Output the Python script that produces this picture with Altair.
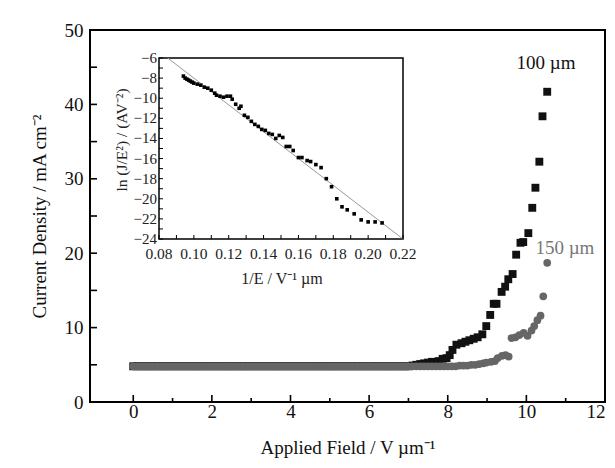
import altair as alt
import pandas as pd

# ---------------- main plot data ----------------
field_100 = [
    0.0, 0.1, 0.2, 0.3, 0.4, 0.5, 0.6, 0.7, 0.8, 0.9,
    1.0, 1.1, 1.2, 1.3, 1.4, 1.5, 1.6, 1.7, 1.8, 1.9,
    2.0, 2.1, 2.2, 2.3, 2.4, 2.5, 2.6, 2.7, 2.8, 2.9,
    3.0, 3.1, 3.2, 3.3, 3.4, 3.5, 3.6, 3.7, 3.8, 3.9,
    4.0, 4.1, 4.2, 4.3, 4.4, 4.5, 4.6, 4.7, 4.8, 4.9,
    5.0, 5.1, 5.2, 5.3, 5.4, 5.5, 5.6, 5.7, 5.8, 5.9,
    6.0, 6.1, 6.2, 6.3, 6.4, 6.5, 6.6, 6.7, 6.8, 6.9,
    7.0, 7.1, 7.2, 7.3, 7.4, 7.5, 7.6,
    7.77, 7.87, 7.97, 8.05, 8.12, 8.22, 8.35, 8.45, 8.55, 8.66,
    8.76, 8.88, 8.98, 9.08, 9.17, 9.24, 9.37, 9.46, 9.54, 9.65,
    9.74, 9.85, 9.92, 10.05, 10.15, 10.23, 10.33, 10.41, 10.53,
]
density_100 = [
    4.8, 4.8, 4.8, 4.8, 4.8, 4.8, 4.8, 4.8, 4.8, 4.8,
    4.8, 4.8, 4.8, 4.8, 4.8, 4.8, 4.8, 4.8, 4.8, 4.8,
    4.8, 4.8, 4.8, 4.8, 4.8, 4.8, 4.8, 4.8, 4.8, 4.8,
    4.8, 4.8, 4.8, 4.8, 4.8, 4.8, 4.8, 4.8, 4.8, 4.8,
    4.8, 4.8, 4.8, 4.8, 4.8, 4.8, 4.8, 4.8, 4.8, 4.8,
    4.8, 4.8, 4.8, 4.8, 4.8, 4.8, 4.8, 4.8, 4.8, 4.8,
    4.8, 4.8, 4.8, 4.8, 4.8, 4.8, 4.8, 4.8, 4.8, 4.8,
    4.8, 4.9, 5.0, 5.1, 5.2, 5.3, 5.4,
    5.5, 5.8, 5.9, 6.3, 7.0, 7.7, 7.9, 8.1, 8.3, 8.5,
    8.7, 9.1, 10.2, 11.7, 13.2, 13.2, 14.8, 15.5, 16.5, 17.2,
    19.8, 21.4, 21.5, 22.7, 26.1, 28.8, 32.3, 38.4, 41.7,
]

field_150 = [
    0.0, 0.1, 0.2, 0.3, 0.4, 0.5, 0.6, 0.7, 0.8, 0.9,
    1.0, 1.1, 1.2, 1.3, 1.4, 1.5, 1.6, 1.7, 1.8, 1.9,
    2.0, 2.1, 2.2, 2.3, 2.4, 2.5, 2.6, 2.7, 2.8, 2.9,
    3.0, 3.1, 3.2, 3.3, 3.4, 3.5, 3.6, 3.7, 3.8, 3.9,
    4.0, 4.1, 4.2, 4.3, 4.4, 4.5, 4.6, 4.7, 4.8, 4.9,
    5.0, 5.1, 5.2, 5.3, 5.4, 5.5, 5.6, 5.7, 5.8, 5.9,
    6.0, 6.1, 6.2, 6.3, 6.4, 6.5, 6.6, 6.7, 6.8, 6.9,
    7.0, 7.1, 7.2, 7.3, 7.4, 7.5, 7.6, 7.7, 7.8, 7.9,
    8.0, 8.1, 8.2, 8.3, 8.4, 8.5, 8.6, 8.7, 8.8,
    8.9, 8.98, 9.1, 9.2, 9.27, 9.38, 9.47, 9.55, 9.62, 9.72,
    9.82, 9.93, 10.03, 10.13, 10.2, 10.28, 10.36, 10.43, 10.53,
]
density_150 = [
    4.8, 4.8, 4.8, 4.8, 4.8, 4.8, 4.8, 4.8, 4.8, 4.8,
    4.8, 4.8, 4.8, 4.8, 4.8, 4.8, 4.8, 4.8, 4.8, 4.8,
    4.8, 4.8, 4.8, 4.8, 4.8, 4.8, 4.8, 4.8, 4.8, 4.8,
    4.8, 4.8, 4.8, 4.8, 4.8, 4.8, 4.8, 4.8, 4.8, 4.8,
    4.8, 4.8, 4.8, 4.8, 4.8, 4.8, 4.8, 4.8, 4.8, 4.8,
    4.8, 4.8, 4.8, 4.8, 4.8, 4.8, 4.8, 4.8, 4.8, 4.8,
    4.8, 4.8, 4.8, 4.8, 4.8, 4.8, 4.8, 4.8, 4.8, 4.8,
    4.8, 4.8, 4.8, 4.8, 4.8, 4.8, 4.8, 4.8, 4.8, 4.8,
    4.8, 4.8, 4.8, 4.9, 4.9, 4.9, 5.0, 5.0, 5.1,
    5.2, 5.3, 5.4, 5.5, 5.9, 6.2, 6.3, 6.1, 8.6, 8.7,
    9.0, 9.3, 8.9, 9.6, 10.2, 11.0, 11.6, 14.2, 18.7,
]

x_major_ticks = [0, 2, 4, 6, 8, 10]
x_minor_ticks = [1, 3, 5, 7, 9, 11]
x_label_values = [0, 2, 4, 6, 8, 10, 12]
y_ticks = [5, 10, 15, 20, 25, 30, 35, 40, 45]
y_label_values = [0, 10, 20, 30, 40, 50]

series_labels = ["100 µm", "150 µm"]
series_label_x = [10.5, 10.98]
series_label_y = [45.6, 20.7]
series_label_colors = ["#111111", "#777777"]

# ---------------- inset data ----------------
inv_field = [
    0.094, 0.095, 0.096, 0.097, 0.098, 0.099, 0.100, 0.102, 0.104, 0.106,
    0.108, 0.110, 0.112, 0.113, 0.115, 0.117, 0.119, 0.121, 0.122, 0.124,
    0.126, 0.127, 0.129, 0.131, 0.133, 0.135, 0.137, 0.139, 0.141, 0.143,
    0.145, 0.147, 0.149, 0.151, 0.153, 0.155, 0.157, 0.160, 0.162, 0.165,
    0.167, 0.170, 0.173, 0.176, 0.179, 0.182, 0.185, 0.188, 0.192, 0.196,
    0.200, 0.204, 0.208,
]
ln_je2 = [
    -7.8, -8.0, -8.1, -8.2, -8.3, -8.4, -8.5, -8.6, -8.7, -8.9,
    -9.0, -9.2, -9.5, -9.7, -9.8, -9.9, -9.8, -9.8, -10.1, -10.6,
    -11.0, -10.8, -11.7, -11.9, -12.3, -12.6, -12.8, -13.1, -13.2, -13.5,
    -13.6, -14.0, -13.7, -13.9, -14.8, -14.8, -15.2, -15.9, -15.9, -16.2,
    -16.3, -16.6, -16.9, -18.0, -18.8, -20.0, -20.8, -21.1, -21.5, -22.1,
    -22.3, -22.3, -22.4,
]
fit_x = [0.085, 0.22]
fit_y = [-6.0, -24.0]

inset_x_domain = [0.08, 0.22]
inset_y_domain = [-24, -6]
inset_x_ticks = [0.08, 0.09, 0.10, 0.11, 0.12, 0.13, 0.14, 0.15,
                 0.16, 0.17, 0.18, 0.19, 0.20, 0.21, 0.22]
inset_x_label_values = [0.08, 0.10, 0.12, 0.14, 0.16, 0.18, 0.20, 0.22]
inset_x_labels = ["0.08", "0.10", "0.12", "0.14", "0.16", "0.18", "0.20", "0.22"]
inset_y_ticks = [-24, -23, -22, -21, -20, -19, -18, -17, -16, -15,
                 -14, -13, -12, -11, -10, -9, -8, -7, -6]
inset_y_label_values = [-24, -22, -20, -18, -16, -14, -12, -10, -8, -6]
inset_y_labels = ["\u221224", "\u221222", "\u221220", "\u221218", "\u221216",
                  "\u221214", "\u221212", "\u221210", "\u22128", "\u22126"]

# ---------------- layout / style ----------------
W, H = 515, 372
FONT = "Liberation Serif"
INSET_X_RANGE = [69, 313]
INSET_Y_RANGE = [209, 28]
TICK = 7
MINOR = 4
ITICK = 4

xs = alt.Scale(domain=[-1.1, 12.0], nice=False, zero=False)
ys = alt.Scale(domain=[0, 50], nice=False, zero=False)

x_axis = alt.Axis(values=x_label_values, title="Applied Field / V µm\u207b\u00b9",
                  labelPadding=0, titlePadding=17, format="d")
y_axis = alt.Axis(values=y_label_values, title="Current Density / mA cm\u207b\u00b2",
                  labelPadding=7, titlePadding=15, format="d")

X = alt.X("x:Q", scale=xs, axis=x_axis)
Y = alt.Y("y:Q", scale=ys, axis=y_axis)

df100 = pd.DataFrame({"x": field_100, "y": density_100})
df150 = pd.DataFrame({"x": field_150, "y": density_150})

squares = alt.Chart(df100).mark_square(size=62, color="#111111", opacity=1).encode(x=X, y=Y)
circles = alt.Chart(df150).mark_circle(size=60, color="#666666", opacity=1).encode(x=X, y=Y)

xt_major = alt.Chart(pd.DataFrame({"x": x_major_ticks})).mark_rule(
    color="black", strokeWidth=1.6).encode(x=X, y=alt.value(H), y2=alt.value(H - TICK))
xt_minor = alt.Chart(pd.DataFrame({"x": x_minor_ticks})).mark_rule(
    color="black", strokeWidth=1.6).encode(x=X, y=alt.value(H), y2=alt.value(H - MINOR))
yt = alt.Chart(pd.DataFrame({"y": y_ticks})).mark_rule(
    color="black", strokeWidth=1.6).encode(y=Y, x=alt.value(0), x2=alt.value(TICK))

lab_df = pd.DataFrame({"x": series_label_x, "y": series_label_y,
                       "t": series_labels, "c": series_label_colors})
series_text = alt.Chart(lab_df).mark_text(font=FONT, fontSize=19).encode(
    x=X, y=Y, text="t:N", color=alt.Color("c:N", scale=None))

main = alt.layer(squares, circles, xt_major, xt_minor, yt, series_text)

# ---------------- inset ----------------
isx = alt.Scale(domain=inset_x_domain, range=INSET_X_RANGE, nice=False, zero=False)
isy = alt.Scale(domain=inset_y_domain, range=INSET_Y_RANGE, nice=False, zero=False)
IX = alt.X("x:Q", scale=isx, axis=None)
IY = alt.Y("y:Q", scale=isy, axis=None)

frame_df = pd.DataFrame({"x": [inset_x_domain[0]], "x2": [inset_x_domain[1]],
                         "y": [inset_y_domain[0]], "y2": [inset_y_domain[1]]})
frame = alt.Chart(frame_df).mark_rect(fill="white", stroke="black", strokeWidth=1.5).encode(
    x=IX, x2="x2:Q", y=IY, y2="y2:Q")

fit = alt.Chart(pd.DataFrame({"x": fit_x, "y": fit_y})).mark_line(
    color="#999999", strokeWidth=1).encode(x=IX, y=IY)
ipts = alt.Chart(pd.DataFrame({"x": inv_field, "y": ln_je2})).mark_square(
    size=13, color="black", opacity=1).encode(x=IX, y=IY)

ixt = alt.Chart(pd.DataFrame({"x": inset_x_ticks})).mark_rule(
    color="black", strokeWidth=1).encode(
    x=IX, y=alt.value(INSET_Y_RANGE[0]), y2=alt.value(INSET_Y_RANGE[0] - ITICK))
iyt = alt.Chart(pd.DataFrame({"y": inset_y_ticks})).mark_rule(
    color="black", strokeWidth=1).encode(
    y=IY, x=alt.value(INSET_X_RANGE[0]), x2=alt.value(INSET_X_RANGE[0] + ITICK))

ixl = alt.Chart(pd.DataFrame({"x": inset_x_label_values, "t": inset_x_labels})).mark_text(
    font=FONT, fontSize=15.5, baseline="top", color="#222222").encode(
    x=IX, y=alt.value(INSET_Y_RANGE[0] + 8), text="t:N")
iyl = alt.Chart(pd.DataFrame({"y": inset_y_label_values, "t": inset_y_labels})).mark_text(
    font=FONT, fontSize=15, align="right", baseline="middle", color="#222222").encode(
    y=IY, x=alt.value(INSET_X_RANGE[0] - 2), text="t:N")

ititle_x = alt.Chart(pd.DataFrame({"t": ["1/E / V\u207b\u00b9 µm"]})).mark_text(
    font=FONT, fontSize=16, color="#222222").encode(
    x=alt.value(192), y=alt.value(249), text="t:N")
ititle_y = alt.Chart(pd.DataFrame({"t": ["ln (J/E\u00b2) / (AV\u207b\u00b2)"]})).mark_text(
    font=FONT, fontSize=15.5, angle=270, color="#222222").encode(
    x=alt.value(32), y=alt.value(110), text="t:N")

inset = alt.layer(frame, fit, ipts, ixt, iyt, ixl, iyl, ititle_x, ititle_y)

chart = alt.layer(main, inset).resolve_scale(x="independent", y="independent").properties(
    width=W, height=H,
    autosize=alt.AutoSizeParams(type="none"),
    padding={"left": 82, "top": 22, "right": 2, "bottom": 58},
    background="white",
).configure_view(stroke="black", strokeWidth=2).configure_axis(
    grid=False, ticks=False, domain=False,
    labelFont=FONT, labelFontSize=19, labelColor="#111111",
    titleFont=FONT, titleFontSize=19, titleFontWeight="normal", titleColor="#111111",
)

chart.save("out.html", embed_options={"renderer": "svg", "actions": False})
